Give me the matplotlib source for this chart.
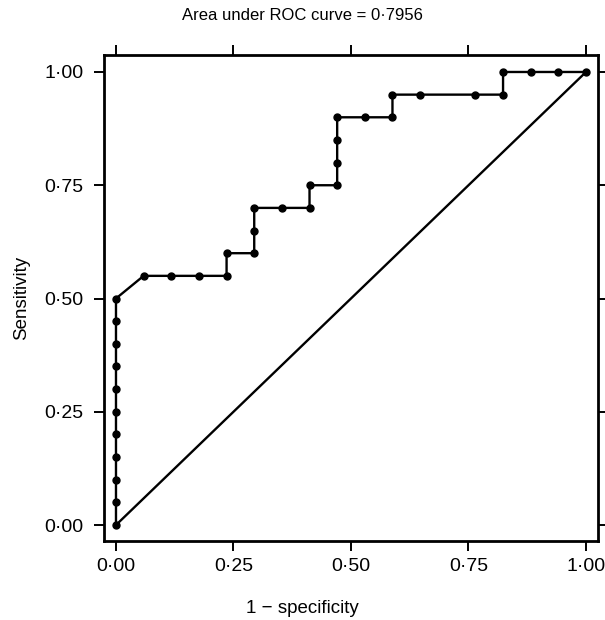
import numpy as np
import matplotlib.pyplot as plt
from matplotlib.ticker import FixedLocator

plt.rcParams['font.family'] = ['Liberation Sans', 'DejaVu Sans']

# ROC points (x in steps of 1/17, y in steps of 1/20)
fpr = [0, 0, 0, 0, 0, 0, 0, 0, 0, 0, 0,
       1/17, 2/17, 3/17, 4/17, 4/17, 5/17, 5/17, 5/17, 6/17, 7/17, 7/17,
       8/17, 8/17, 8/17, 8/17, 9/17, 10/17, 10/17, 11/17, 13/17, 14/17,
       14/17, 15/17, 16/17, 1.0]
tpr = [0, .05, .10, .15, .20, .25, .30, .35, .40, .45, .50,
       .55, .55, .55, .55, .60, .60, .65, .70, .70, .70, .75,
       .75, .80, .85, .90, .90, .90, .95, .95, .95, .95,
       1.0, 1.0, 1.0, 1.0]
ticks = [0, 0.25, 0.5, 0.75, 1.0]
tick_labels = ['0·00', '0·25', '0·50', '0·75', '1·00']
auc = np.trapezoid(tpr, fpr)

fig = plt.figure(figsize=(6.05, 6.2), dpi=100)
ax = fig.add_axes([0.1719, 0.1274, 0.8165, 0.7839])

ax.plot([0, 1], [0, 1], color='black', lw=1.7)
ax.plot(fpr, tpr, '-k', lw=1.7, marker='o', markersize=5)

ax.set_xlim(-0.0255, 1.0255)
ax.set_ylim(-0.0353, 1.0375)
ax.xaxis.set_major_locator(FixedLocator(ticks))
ax.yaxis.set_major_locator(FixedLocator(ticks))
ax.set_xticklabels(tick_labels)
ax.set_yticklabels(tick_labels)
ax.tick_params(direction='out', length=7, width=1.4, labelsize=14,
               top=True, right=True)
ax.tick_params(axis='x', pad=5)
ax.tick_params(axis='y', pad=8)
for s in ax.spines.values():
    s.set_linewidth(2.0)

ax.set_ylabel('Sensitivity', fontsize=13.5, labelpad=10)
fig.text(0.5, 0.019, '1 − specificity', ha='center', va='center', fontsize=13.5)
fig.text(0.5, 0.975, 'Area under ROC curve = %s' % ('%.4f' % auc).replace('.', '·'),
         ha='center', va='center', fontsize=12)

fig.savefig('out.png')
